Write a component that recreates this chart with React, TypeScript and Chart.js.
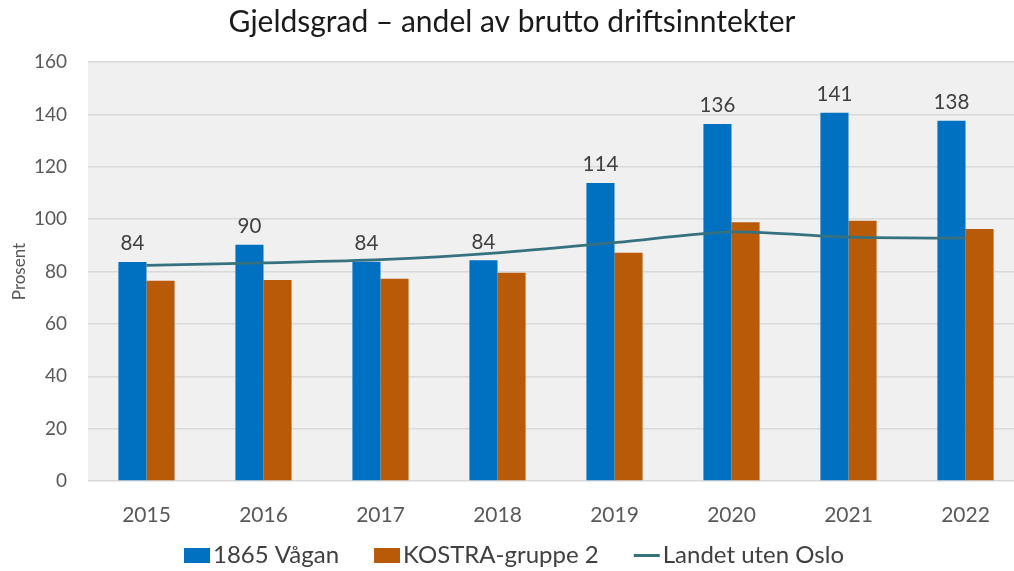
import React, { useEffect, useRef } from "react";
import { Chart, registerables } from "chart.js";

Chart.register(...registerables);

const categories = ["2015", "2016", "2017", "2018", "2019", "2020", "2021", "2022"];
const vaganValues = [83.6, 90.2, 83.7, 84.3, 113.8, 136.3, 140.6, 137.6];
const kostraValues = [76.5, 76.8, 77.2, 79.5, 87.2, 98.8, 99.4, 96.2];
const landetValues = [82.3, 83.3, 84.5, 87.1, 91.0, 95.1, 93.1, 92.7];
const yTicks = [0, 20, 40, 60, 80, 100, 120, 140, 160];

const seriesNames = ["1865 Vågan", "KOSTRA-gruppe 2", "Landet uten Oslo"];
const seriesColors = ["#0070c0", "#b85a08", "#367180"];
const titleText = "Gjeldsgrad – andel av brutto driftsinntekter";
const yAxisTitle = "Prosent";

const FONT = "Lato, 'Open Sans', sans-serif";

const plotBg = {
  id: "plotBg",
  beforeDraw(chart: any) {
    const { ctx, chartArea } = chart;
    ctx.save();
    ctx.fillStyle = "#f0f0f0";
    ctx.fillRect(chartArea.left, chartArea.top, chartArea.right - chartArea.left, chartArea.bottom - chartArea.top);
    ctx.restore();
  },
};

const barLabels = {
  id: "barLabels",
  afterDatasetsDraw(chart: any) {
    const { ctx } = chart;
    const meta = chart.getDatasetMeta(0);
    const data = chart.data.datasets[0].data as number[];
    ctx.save();
    ctx.font = `20.5px ${FONT}`;
    ctx.fillStyle = "#404040";
    ctx.textAlign = "center";
    ctx.textBaseline = "bottom";
    meta.data.forEach((el: any, i: number) => {
      ctx.fillText(String(Math.round(data[i])), el.x, el.y - 8);
    });
    ctx.restore();
  },
};

const customLegend = {
  id: "customLegend",
  afterDraw(chart: any) {
    const { ctx } = chart;
    const keyW = 26;
    const keyH = 15;
    const gap = 3;
    const spacing = 35;
    const cy = 555.5;
    ctx.save();
    ctx.font = `24px ${FONT}`;
    const widths = chart.data.datasets.map((ds: any) => keyW + gap + ctx.measureText(ds.label).width);
    const total = widths.reduce((a: number, b: number) => a + b, 0) + spacing * (widths.length - 1);
    let x = chart.width / 2 + 2 - total / 2;
    chart.data.datasets.forEach((ds: any, i: number) => {
      const color = seriesColors[i];
      if (ds.type === "line") {
        ctx.strokeStyle = color;
        ctx.lineWidth = 3;
        ctx.beginPath();
        ctx.moveTo(x, cy);
        ctx.lineTo(x + keyW, cy);
        ctx.stroke();
      } else {
        ctx.fillStyle = color;
        ctx.fillRect(x, cy - keyH / 2, keyW, keyH);
      }
      ctx.fillStyle = "#404040";
      ctx.textAlign = "left";
      ctx.textBaseline = "middle";
      ctx.fillText(ds.label, x + keyW + gap, cy);
      x += widths[i] + spacing;
    });
    ctx.restore();
  },
};

export default function App() {
  const ref = useRef<HTMLCanvasElement | null>(null);
  useEffect(() => {
    if (!ref.current) return;
    const chart = new Chart(ref.current, {
      type: "bar",
      data: {
        labels: categories,
        datasets: [
          {
            type: "bar",
            label: seriesNames[0],
            data: vaganValues,
            backgroundColor: seriesColors[0],
            borderWidth: 0,
            order: 1,
          },
          {
            type: "bar",
            label: seriesNames[1],
            data: kostraValues,
            backgroundColor: seriesColors[1],
            borderWidth: 0,
            order: 1,
          },
          {
            type: "line",
            label: seriesNames[2],
            data: landetValues,
            borderColor: seriesColors[2],
            backgroundColor: seriesColors[2],
            borderWidth: 2.75,
            pointRadius: 0,
            tension: 0.25,
            order: 0,
          } as any,
        ],
      },
      options: {
        responsive: false,
        animation: false,
        datasets: {
          bar: { barPercentage: 1.0, categoryPercentage: 0.48 },
        },
        layout: { padding: { left: 0, right: 0, top: 0, bottom: 40 } },
        plugins: {
          title: {
            display: true,
            text: titleText,
            color: "#1a1a1a",
            font: { family: FONT, size: 30, weight: "normal" },
            padding: { top: 4, bottom: 22 },
            align: "center",
          },
          legend: { display: false },
          tooltip: { enabled: false },
        },
        scales: {
          x: {
            offset: true,
            grid: { display: false },
            border: { display: false },
            ticks: { color: "#595959", font: { family: FONT, size: 21 }, padding: 14 },
            afterFit: (scale: any) => {
              scale.height = 50;
            },
          },
          y: {
            min: 0,
            max: 160,
            afterBuildTicks: (scale: any) => {
              scale.ticks = yTicks.map((v) => ({ value: v }));
            },
            grid: { color: "#d9d9d9", lineWidth: 1.5, drawTicks: false },
            border: { display: false },
            ticks: { color: "#595959", font: { family: FONT, size: 19 }, padding: 21 },
            title: {
              display: true,
              text: yAxisTitle,
              color: "#595959",
              font: { family: FONT, size: 17 },
              padding: { top: 9, bottom: 0 },
            },
            afterFit: (scale: any) => {
              scale.width = 88;
            },
          },
        },
      },
      plugins: [plotBg, barLabels, customLegend],
    });
    return () => chart.destroy();
  }, []);

  return (
    <div
      style={{
        position: "fixed",
        left: 0,
        top: 0,
        width: 1014,
        height: 571,
        overflow: "hidden",
        background: "#ffffff",
      }}
    >
      <canvas ref={ref} width={1024} height={571} style={{ display: "block" }} />
    </div>
  );
}
